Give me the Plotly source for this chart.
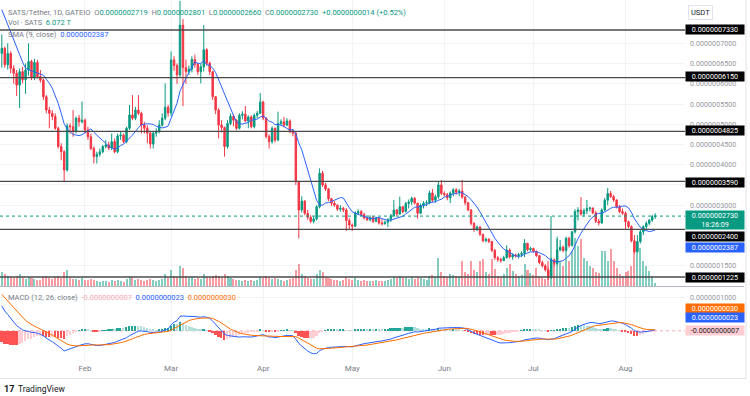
import numpy as np
import pandas as pd
import plotly.graph_objects as go

NANO = 1e-9  # all prices below are in units of 0.000000001 USDT

# ---- data ----
start_date = "2024-01-04"
# closes before the first visible candle (Nov 20 - Jan 3), only used to warm up SMA / MACD
history_closes = [190, 200, 195, 210, 205, 215, 200, 210, 220, 215, 205, 210, 220, 230, 225,
                  215, 220, 230, 240,
                  280, 330, 390, 450, 510, 580, 640, 700, 760, 820, 870, 900,
                  880, 860, 870, 840, 850, 830, 810, 820, 800, 790, 800, 790, 780, 770]

opens = [675, 688, 647, 675, 638, 626, 597, 630, 610, 634,
         655, 616, 653, 618, 609, 568, 535, 527, 519, 490,
         445, 432, 387, 496, 494, 482, 515, 506, 510, 486,
         469, 440, 420, 426, 432, 445, 449, 441, 457, 432,
         471, 473, 457, 490, 523, 515, 535, 527, 498, 490,
         478, 451, 478, 482, 498, 515, 542, 528, 659, 645,
         622, 745, 640, 630, 636, 660, 648, 630, 642, 684,
         651, 630, 568, 535, 498, 492, 445, 502, 520, 510,
         490, 522, 525, 508, 518, 494, 522, 527, 555, 515,
         470, 457, 490, 461, 502, 506, 498, 508, 482, 478,
         358, 288, 310, 280, 270, 260, 266, 296, 379, 350,
         340, 316, 305, 300, 290, 292, 288, 262, 251, 248,
         280, 284, 277, 268, 264, 270, 260, 268, 256, 254,
         258, 264, 274, 288, 278, 296, 284, 304, 308, 317,
         305, 280, 300, 305, 306, 330, 312, 321, 350, 329,
         326, 318, 330, 338, 332, 335, 320, 306, 288, 255,
         240, 246, 228, 212, 216, 210, 188, 170, 166, 163,
         170, 189, 172, 177, 175, 178, 181, 206, 190, 193,
         186, 175, 158, 150, 140, 122, 165, 156, 189, 196,
         188, 218, 200, 234, 284, 288, 278, 286, 292, 293,
         281, 260, 256, 288, 312, 329, 321, 313, 296, 284,
         280, 259, 247, 212, 185, 210, 234, 247, 255, 263,
         271.9]

highs = [722, 692, 700, 680, 646, 634, 638, 642, 650, 700,
         659, 662, 659, 634, 613, 572, 543, 535, 527, 494,
         453, 436, 502, 502, 535, 519, 523, 556, 514, 494,
         477, 445, 432, 440, 449, 461, 457, 477, 465, 477,
         482, 477, 494, 548, 572, 543, 572, 531, 506, 498,
         482, 482, 490, 510, 527, 601, 548, 680, 668, 650,
         805, 760, 660, 645, 668, 672, 652, 650, 745, 688,
         655, 632, 570, 540, 510, 494, 510, 527, 525, 512,
         527, 532, 545, 522, 522, 526, 533, 577, 558, 518,
         475, 495, 492, 531, 512, 518, 515, 512, 488, 480,
         360, 322, 312, 288, 275, 272, 300, 391, 385, 355,
         342, 318, 310, 302, 300, 296, 293, 268, 255, 285,
         290, 288, 281, 272, 275, 273, 272, 270, 265, 262,
         268, 278, 313, 290, 321, 298, 308, 314, 321, 320,
         306, 304, 310, 312, 336, 340, 326, 358, 362, 334,
         330, 334, 342, 342, 340, 362, 322, 308, 290, 258,
         250, 248, 230, 220, 218, 212, 192, 174, 170, 175,
         201, 193, 181, 180, 182, 186, 216, 206, 197, 195,
         188, 177, 163, 154, 146, 170, 168, 222, 214, 200,
         222, 222, 236, 290, 295, 320, 292, 313, 296, 294,
         286, 266, 292, 318, 342, 335, 326, 314, 300, 292,
         284, 262, 250, 226, 226, 240, 250, 260, 266, 276,
         280.1]

lows = [640, 640, 635, 626, 600, 570, 540, 601, 575, 620,
        609, 609, 613, 603, 560, 527, 490, 510, 486, 440,
        411, 358, 383, 477, 469, 477, 494, 502, 477, 461,
        436, 403, 403, 420, 428, 440, 436, 436, 428, 428,
        461, 453, 453, 486, 510, 510, 523, 477, 477, 453,
        440, 440, 469, 477, 494, 510, 519, 520, 632, 600,
        615, 545, 600, 622, 628, 640, 622, 601, 630, 645,
        622, 560, 525, 465, 480, 420, 440, 498, 495, 485,
        487, 512, 505, 490, 490, 490, 515, 525, 510, 465,
        440, 452, 455, 458, 498, 492, 495, 478, 470, 350,
        218, 282, 275, 264, 255, 255, 262, 292, 345, 335,
        310, 298, 296, 286, 284, 283, 236, 240, 236, 246,
        276, 274, 265, 261, 260, 256, 258, 252, 250, 252,
        246, 258, 270, 274, 276, 280, 282, 292, 300, 302,
        267, 278, 292, 298, 302, 308, 306, 316, 325, 322,
        312, 305, 322, 326, 322, 316, 300, 286, 250, 234,
        236, 224, 208, 208, 206, 184, 165, 160, 158, 162,
        168, 168, 165, 170, 168, 172, 172, 186, 186, 183,
        172, 154, 146, 136, 115, 118, 150, 152, 186, 184,
        186, 195, 198, 230, 262, 274, 272, 278, 284, 278,
        256, 250, 254, 284, 300, 318, 308, 292, 280, 276,
        239, 243, 208, 180, 183, 205, 226, 238, 250, 259,
        266]

closes = [688, 647, 675, 638, 626, 597, 630, 610, 634, 655,
          616, 653, 618, 609, 568, 535, 527, 519, 490, 445,
          432, 387, 496, 494, 482, 515, 506, 510, 486, 469,
          440, 420, 426, 432, 445, 449, 441, 457, 432, 471,
          473, 457, 490, 523, 515, 535, 527, 498, 490, 478,
          451, 478, 482, 498, 515, 542, 528, 659, 645, 622,
          745, 640, 630, 636, 660, 648, 630, 642, 684, 651,
          630, 568, 535, 498, 492, 445, 502, 520, 510, 490,
          522, 525, 508, 518, 494, 522, 527, 555, 515, 470,
          457, 490, 461, 502, 506, 498, 508, 482, 478, 358,
          288, 310, 280, 270, 260, 266, 296, 379, 350, 340,
          316, 305, 300, 290, 292, 288, 262, 251, 248, 280,
          284, 277, 268, 264, 270, 260, 268, 256, 254, 258,
          264, 274, 288, 278, 296, 284, 304, 308, 317, 305,
          280, 300, 305, 306, 330, 312, 321, 350, 329, 326,
          318, 330, 338, 332, 335, 320, 306, 288, 255, 240,
          246, 228, 212, 216, 210, 188, 170, 166, 163, 170,
          189, 172, 177, 175, 178, 181, 206, 190, 193, 186,
          175, 158, 150, 140, 122, 165, 156, 189, 196, 188,
          218, 200, 234, 284, 288, 278, 286, 292, 293, 281,
          260, 256, 288, 312, 329, 321, 313, 296, 284, 280,
          259, 247, 212, 185, 210, 234, 247, 255, 263, 271.9,
          273]

volumes_T = [28, 24, 20, 18, 16, 20, 24, 16, 14, 18,
             16, 14, 12, 12, 18, 20, 16, 14, 18, 20,
             16, 28, 32, 16, 14, 14, 12, 16, 12, 12,
             14, 12, 10, 8, 10, 10, 8, 12, 10, 12,
             10, 8, 14, 18, 16, 12, 14, 12, 10, 12,
             14, 12, 10, 12, 14, 24, 16, 32, 20, 18,
             40, 36, 20, 16, 18, 14, 16, 14, 24, 18,
             16, 20, 22, 20, 16, 24, 20, 16, 14, 12,
             12, 10, 12, 10, 12, 10, 12, 18, 16, 20,
             16, 14, 16, 14, 12, 10, 12, 14, 16, 32,
             44, 24, 20, 16, 14, 14, 24, 32, 28, 18,
             16, 14, 12, 12, 10, 12, 18, 14, 12, 16,
             12, 10, 12, 10, 10, 10, 12, 10, 10, 10,
             12, 14, 18, 16, 20, 16, 16, 14, 18, 14,
             18, 16, 14, 12, 20, 22, 18, 56, 28, 20,
             18, 24, 22, 20, 18, 50, 28, 24, 50, 32,
             28, 50, 54, 28, 24, 54, 34, 20, 18, 24,
             36, 44, 30, 24, 20, 22, 44, 32, 26, 22,
             36, 20, 16, 14, 50, 140, 44, 94, 50, 40,
             70, 50, 70, 96, 80, 94, 56, 50, 40, 36,
             28, 26, 70, 70, 50, 74, 50, 36, 24, 20,
             28, 30, 40, 76, 80, 76, 50, 40, 30, 20,
             6.072]

support_levels = [733, 615, 482.5, 359, 240, 122.5]
month_ticks = ["2024-02-01", "2024-03-01", "2024-04-01", "2024-05-01",
               "2024-06-01", "2024-07-01", "2024-08-01"]
month_labels = ["Feb", "Mar", "Apr", "May", "Jun", "Jul", "Aug"]
price_ticks = [150, 300, 350, 400, 450, 500, 550, 600, 650, 700]
macd_ticks = [100]

# ---- derived indicators ----
dates = pd.date_range(start_date, periods=len(closes), freq="D")
n0 = len(history_closes)
all_close = pd.Series(history_closes + closes, dtype=float)
sma9 = all_close.rolling(9).mean().iloc[n0:].to_numpy()
ema12 = all_close.ewm(span=12, adjust=False).mean()
ema26 = all_close.ewm(span=26, adjust=False).mean()
macd_all = ema12 - ema26
signal_all = macd_all.ewm(span=9, adjust=False).mean()
hist_all = macd_all - signal_all
macd = macd_all.iloc[n0:].to_numpy()
signal = signal_all.iloc[n0:].to_numpy()
hist = hist_all.iloc[n0:].to_numpy()
hist_prev = hist_all.shift(1).iloc[n0:].to_numpy()
hist_colors = []
for h, p in zip(hist, hist_prev):
    if h >= 0:
        hist_colors.append("#26a69a" if h > p else "#b2dfdb")
    else:
        hist_colors.append("#ff5252" if h < p else "#ffcdd2")

UP, DOWN = "#089981", "#f23645"
vol_colors = ["rgba(8,153,129,0.5)" if c >= o else "rgba(242,54,69,0.5)"
              for o, c in zip(opens, closes)]

def nano(v):
    return [x * NANO for x in v]

# ---- geometry (pixels) ----
W, H = 750, 396
ML, MR, MT, MB = 0, 65, 0, 18
PW, PH = W - ML - MR, H - MT - MB

def px_x(p):
    return p / PW

def px_y(p):
    return (PH - p) / PH

DAY_MS = 86400000
fig = go.Figure()
fig.add_trace(go.Bar(x=dates, y=volumes_T, marker_color=vol_colors, marker_line_width=0,
                     width=0.68 * DAY_MS, xaxis="x", yaxis="y", hoverinfo="skip"))
fig.add_trace(go.Candlestick(x=dates, open=nano(opens), high=nano(highs), low=nano(lows),
                             close=nano(closes), xaxis="x", yaxis="y2",
                             increasing=dict(line=dict(color=UP, width=1), fillcolor=UP),
                             decreasing=dict(line=dict(color=DOWN, width=1), fillcolor=DOWN),
                             whiskerwidth=0))
fig.add_trace(go.Scatter(x=dates, y=sma9 * NANO, mode="lines", xaxis="x", yaxis="y2",
                         line=dict(color="#2962ff", width=1)))
fig.add_trace(go.Bar(x=dates, y=hist * NANO, marker_color=hist_colors, marker_line_width=0,
                     width=0.6 * DAY_MS, xaxis="x2", yaxis="y3"))
fig.add_trace(go.Scatter(x=dates, y=macd * NANO, mode="lines", xaxis="x2", yaxis="y3",
                         line=dict(color="#2962ff", width=1)))
fig.add_trace(go.Scatter(x=dates, y=signal * NANO, mode="lines", xaxis="x2", yaxis="y3",
                         line=dict(color="#ff6d00", width=1)))

x_range = ["2024-01-03 09:27", "2024-08-21 00:45"]
price_dom = [px_y(286), 1]
macd_dom = [px_y(362), px_y(287)]
grid = "#f2f3f6"
FONT = "Roboto"

fig.update_layout(
    width=W, height=H, margin=dict(l=ML, r=MR, t=MT, b=MB),
    paper_bgcolor="white", plot_bgcolor="white", showlegend=False,
    font=dict(family=FONT, size=8, color="#787b86"), bargap=0,
    xaxis=dict(domain=[0, 1], range=x_range, anchor="y", type="date",
               tickvals=month_ticks, showticklabels=False, showgrid=True, gridcolor=grid,
               zeroline=False, showline=False, rangeslider=dict(visible=False), ticks=""),
    xaxis2=dict(domain=[0, 1], range=x_range, anchor="y3", type="date", matches="x",
                tickvals=month_ticks, ticktext=month_labels, showgrid=True, gridcolor=grid,
                tickfont=dict(size=8, color="#787b86"), zeroline=False, showline=False, ticks=""),
    yaxis=dict(domain=price_dom, range=[0, 572], visible=False, fixedrange=True),
    yaxis2=dict(overlaying="y", side="right", anchor="x",
                range=[100.2 * NANO, 807.1 * NANO],
                tickvals=nano(price_ticks), tickformat=".10f",
                tickfont=dict(size=7.2, color="#9598a1"), ticklabelstandoff=4,
                showgrid=True, gridcolor=grid, zeroline=False, showline=False, ticks=""),
    yaxis3=dict(domain=macd_dom, anchor="x2", side="right",
                range=[-92.9 * NANO, 129.7 * NANO],
                tickvals=nano(macd_ticks), tickformat=".10f",
                tickfont=dict(size=7.2, color="#9598a1"), ticklabelstandoff=4,
                showgrid=True, gridcolor=grid, zeroline=False, showline=False, ticks=""),
)

shapes = []
for lv in support_levels:
    shapes.append(dict(type="line", xref="paper", x0=0, x1=1, yref="y2",
                       y0=lv * NANO, y1=lv * NANO, line=dict(color="#4a4a4a", width=1.3)))
shapes.append(dict(type="line", xref="paper", x0=0, x1=1, yref="y2",
                   y0=closes[-1] * NANO, y1=closes[-1] * NANO,
                   line=dict(color=UP, width=1, dash="dot")))
shapes.append(dict(type="line", xref="paper", x0=0, x1=1, yref="y3",
                   y0=hist[-1] * NANO, y1=hist[-1] * NANO, layer="below",
                   line=dict(color="#f7a9b2", width=1, dash="dot")))
shapes.append(dict(type="line", xref="paper", x0=0, x1=px_x(744), yref="paper",
                   y0=px_y(286.5), y1=px_y(286.5), line=dict(color="#b4b7bf", width=1)))
shapes.append(dict(type="line", xref="paper", x0=0, x1=px_x(746), yref="paper",
                   y0=px_y(378.5), y1=px_y(378.5), line=dict(color="#e0e3eb", width=1)))
shapes.append(dict(type="line", xref="paper", x0=px_x(746), x1=px_x(746), yref="paper",
                   y0=px_y(0), y1=px_y(378.5), line=dict(color="#e0e3eb", width=1)))
fig.update_layout(shapes=shapes)

G = "#089981"
def span(t, c):
    return f"<span style='color:{c}'>{t}</span>"

sp = "\u00a0"
anns = []
row1 = ("SATS/Tether, 1D, GATEIO" + sp + sp + "O" + span("0.0000002719", G) + sp + sp + "H" +
        span("0.0000002801", G) + sp + sp + "L" + span("0.0000002660", G) + sp + sp + "C" +
        span("0.0000002730", G) + sp + sp + span("+0.0000000014 (+0.52%)", G))
row2 = "Vol · SATS" + sp + sp + span("6.072 T", G)
row3 = "SMA (9, close)" + sp + sp + span("0.0000002387", "#2962ff")
row4 = ("MACD (12, 26, close)" + sp + sp + span("-0.0000000007", "#f7a9b2") + sp + sp +
        span("0.0000000023", "#2962ff") + sp + sp + span("0.0000000030", "#ff6d00"))
for txt, yy in [(row1, 12), (row2, 23), (row3, 34), (row4, 297)]:
    anns.append(dict(text=txt, xref="paper", yref="paper", x=px_x(6), y=px_y(yy),
                     xanchor="left", yanchor="middle", showarrow=False,
                     font=dict(family=FONT, size=7.5, color="#787b86")))

def box(txt, yy, bg, fg="white", h=9):
    anns.append(dict(text=txt, xref="paper", yref="paper", x=1.0, y=px_y(yy),
                     xanchor="left", yanchor="middle", showarrow=False,
                     bgcolor=bg, borderpad=0, width=58, height=h, align="center",
                     font=dict(family=FONT, size=7.2, color=fg)))

box("0.0000007330", 29.8, "#000000")
box("0.0000006150", 76.5, "#000000")
box("0.0000004825", 130.5, "#000000")
box("0.0000003590", 182.5, "#000000")
box("0.0000002730<br>18:26:09", 219.5, G, h=18)
box("0.0000002400", 236.7, "#000000")
box("0.0000002387", 247.8, "#2962ff")
box("0.0000001225", 277.3, "#000000")
box("0.0000000030", 308.3, "#ff6d00")
box("0.0000000023", 317.7, "#2962ff")
box("-0.0000000007", 330.3, "#ffcdd2", fg="#131722")
anns.append(dict(text="USDT", xref="paper", yref="paper", x=px_x(688), y=px_y(12),
                 xanchor="left", yanchor="middle", showarrow=False, bgcolor="white",
                 bordercolor="#e0e3eb", borderwidth=1, borderpad=2,
                 font=dict(family=FONT, size=7.5, color="#131722")))
anns.append(dict(text="<b>17</b>", xref="paper", yref="paper", x=px_x(2), y=px_y(389),
                 xanchor="left", yanchor="middle", showarrow=False,
                 font=dict(family=FONT, size=9, color="#131722")))
anns.append(dict(text="TradingView", xref="paper", yref="paper", x=px_x(16), y=px_y(389),
                 xanchor="left", yanchor="middle", showarrow=False,
                 font=dict(family=FONT, size=8.5, color="#131722")))
fig.update_layout(annotations=anns)

fig.write_html("out.html", config={"displayModeBar": False},
               post_script="document.body.style.margin='0';document.body.style.overflow='hidden';")
